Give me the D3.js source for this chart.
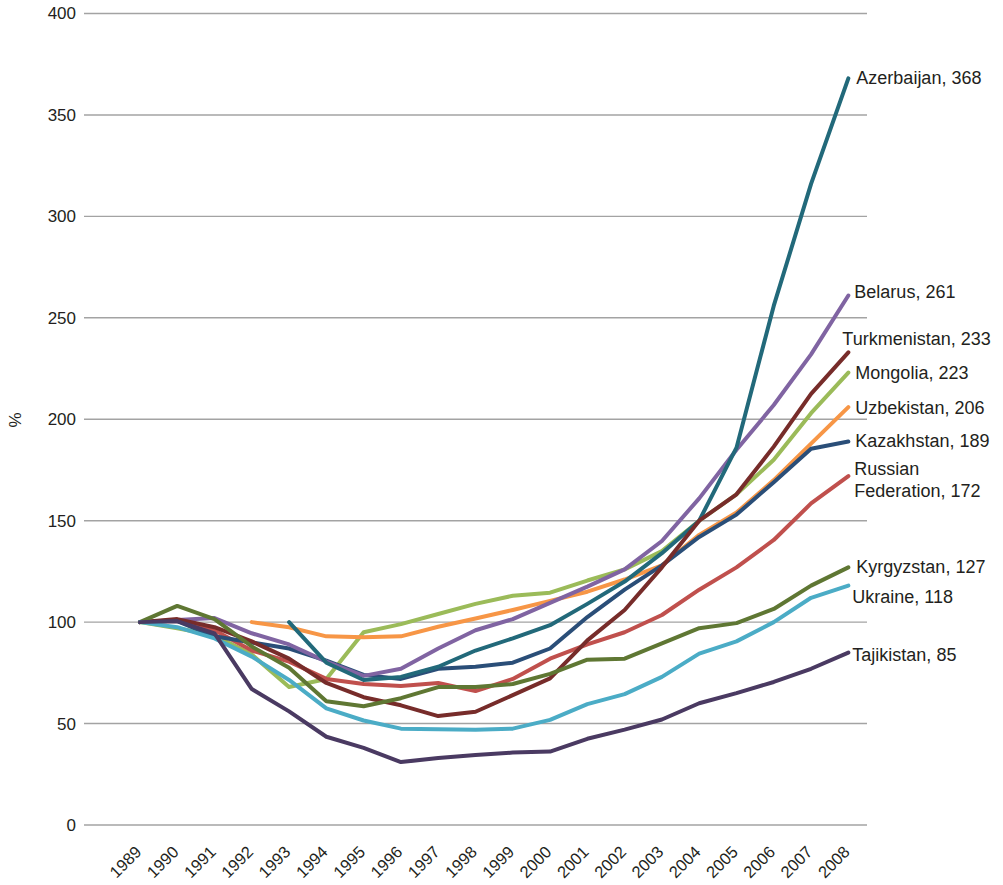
<!DOCTYPE html>
<html>
<head>
<meta charset="utf-8">
<script src="https://cdn.jsdelivr.net/npm/d3@7"></script>
<style>
  html, body { margin: 0; padding: 0; background: #fff; }
  svg { display: block; font-family: "Liberation Sans", Arial, Helvetica, sans-serif; }
</style>
</head>
<body>
<svg id="chart" width="1003" height="885"></svg>
<script>
// ---- Data ----
const years = [1989,1990,1991,1992,1993,1994,1995,1996,1997,1998,1999,2000,2001,2002,2003,2004,2005,2006,2007,2008];
const yTicks = [0,50,100,150,200,250,300,350,400];

const azerbaijan   = [null,null,null,null,100,80,71.5,73,78,86,92,98.5,109,120,134,150,186,256,316,368];
const belarus      = [100,101,102,94.5,89,80.5,73.5,77,87,96,101.5,109.5,117.5,126,140,161,185,207,232,261];
const kazakhstan   = [100,100.5,93,90,87,81,74,72,77,78,80,87,102.5,116,128,142,153,169,185.5,189];
const kyrgyzstan   = [100,108,101.5,88,77.5,61,58.5,62.5,68,68,69.5,74.5,81.5,82,89.5,97,99.5,106.5,118,127];
const mongolia     = [100,97,93.5,84,68,72,95,99,104,109,113,114.5,120.5,126,135,150,163,180,203,223];
const russia       = [100,100.5,96,86,80.5,72,69.5,68.5,70,66,72,82,89,95,103.5,116,127,140.5,158.5,172];
const tajikistan   = [100,100.5,94.5,67,56,43.5,38,31,33,34.5,35.7,36.2,42.5,47,52,60,65,70.5,77,85];
const turkmenistan = [100,101.5,97.5,90.5,82,70,63,59,53.7,55.8,64,72.3,91,106,127,150,163,186.5,212.5,233];
const ukraine      = [100,97.5,92,83,71.5,57.5,51.5,47.5,47.2,46.9,47.5,51.8,59.6,64.5,73,84.5,90.5,100,112,118];
const uzbekistan   = [null,null,null,100,97.5,93,92.5,93,97.7,101.8,106,110.5,115,121,128,143,154,170,188,206];

const seriesNames  = ["Mongolia","Uzbekistan","Russian Federation","Kazakhstan","Belarus","Azerbaijan","Turkmenistan","Kyrgyzstan","Ukraine","Tajikistan"];
const seriesValues = [mongolia,uzbekistan,russia,kazakhstan,belarus,azerbaijan,turkmenistan,kyrgyzstan,ukraine,tajikistan];
const endLabels    = [["Mongolia, 223"],["Uzbekistan, 206"],["Russian","Federation, 172"],["Kazakhstan, 189"],["Belarus, 261"],["Azerbaijan, 368"],["Turkmenistan, 233"],["Kyrgyzstan, 127"],["Ukraine, 118"],["Tajikistan, 85"]];

// ---- Styles / layout ----
const colors = {
  "Mongolia":"#9BBB59","Uzbekistan":"#F79646","Russian Federation":"#C0504D","Kazakhstan":"#2A4E78",
  "Belarus":"#8064A2","Azerbaijan":"#22697A","Turkmenistan":"#772C2A","Kyrgyzstan":"#5F7733",
  "Ukraine":"#4BACC6","Tajikistan":"#4A3A62"
};
// label nudges (dx, dy from line end)
const labelNudge = {
  "Azerbaijan":[8,5.5],"Belarus":[6,3],"Turkmenistan":[-6,-7],"Mongolia":[7,6],"Uzbekistan":[7,6.5],
  "Kazakhstan":[7,5.5],"Russian Federation":[6,-1],"Kyrgyzstan":[8,6],"Ukraine":[4,17],"Tajikistan":[4,8]
};

const svg = d3.select("#chart");
const plotLeft = 84, plotRight = 867, plotTop = 13.5, plotBottom = 825;

const x = d3.scaleLinear().domain([1987.5, 2008.5]).range([plotLeft, plotRight]);
const y = d3.scaleLinear().domain([0, 400]).range([plotBottom, plotTop]);

// gridlines
svg.append("g").selectAll("line").data(yTicks).join("line")
  .attr("x1", plotLeft).attr("x2", plotRight)
  .attr("y1", d => y(d)).attr("y2", d => y(d))
  .attr("stroke", "#A3A3A3").attr("stroke-width", 1.4);

// y axis labels
const yAxis = d3.axisLeft(y).tickValues(yTicks).tickSize(0).tickPadding(0);
const gy = svg.append("g").attr("transform", `translate(${plotLeft - 8},0)`).call(yAxis);
gy.select(".domain").remove();
gy.selectAll("text").attr("font-size", 17).attr("fill", "#231F20")
  .attr("font-family", '"Liberation Sans", Arial, sans-serif');

// x axis labels
const xAxis = d3.axisBottom(x).tickValues(years).tickSize(0).tickFormat(d3.format("d"));
const gx = svg.append("g").attr("transform", `translate(0,${plotBottom})`).call(xAxis);
gx.select(".domain").remove();
gx.selectAll("text")
  .attr("font-size", 16.5).attr("fill", "#231F20")
  .attr("font-family", '"Liberation Sans", Arial, sans-serif')
  .attr("text-anchor", "end")
  .attr("dy", null).attr("y", 0)
  .attr("transform", "translate(2,28) rotate(-45)");

// axis title
svg.append("text")
  .attr("transform", "translate(21,420) rotate(-90)")
  .attr("text-anchor", "middle")
  .attr("font-size", 17).attr("fill", "#231F20")
  .text("%");

// lines
const line = d3.line()
  .defined(d => d.v != null)
  .x(d => x(d.year)).y(d => y(d.v));

seriesNames.forEach((name, i) => {
  const pts = years.map((yr, j) => ({year: yr, v: seriesValues[i][j]}));
  svg.append("path")
    .datum(pts)
    .attr("fill", "none")
    .attr("stroke", colors[name])
    .attr("stroke-width", 4)
    .attr("stroke-linejoin", "round")
    .attr("stroke-linecap", "round")
    .attr("d", line);
});

// end labels
seriesNames.forEach((name, i) => {
  const vals = seriesValues[i];
  const last = vals[vals.length - 1];
  const [dx, dy] = labelNudge[name];
  const t = svg.append("text")
    .attr("x", x(years[years.length - 1]) + dx)
    .attr("y", y(last) + dy)
    .attr("font-size", 18).attr("fill", "#231F20");
  endLabels[i].forEach((s, k) => {
    t.append("tspan").attr("x", x(years[years.length - 1]) + dx)
      .attr("dy", k === 0 ? 0 : 22).text(s);
  });
});
</script>
</body>
</html>
